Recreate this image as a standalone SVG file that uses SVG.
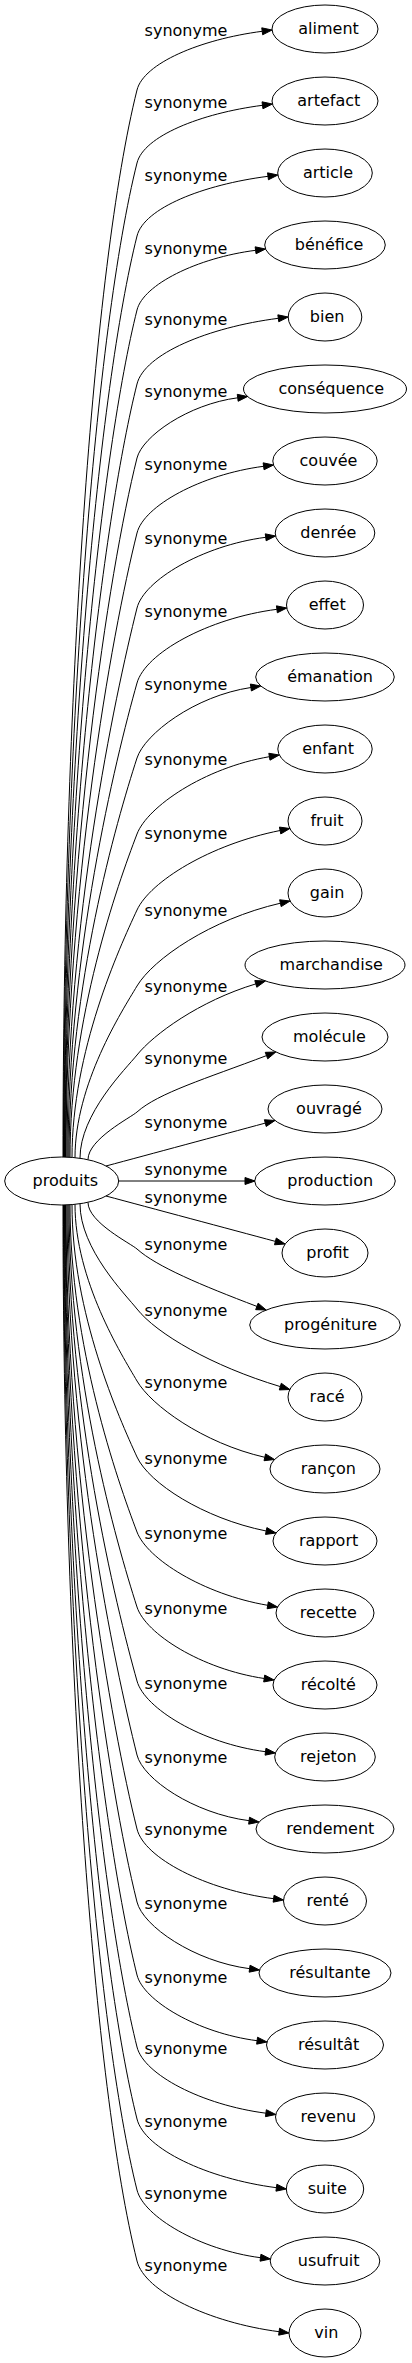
<svg xmlns="http://www.w3.org/2000/svg" width="412" height="2363" viewBox="0 0 412 2363">
<style>
text{font-family:"DejaVu Sans","Verdana",sans-serif;font-size:16px;fill:#000;text-anchor:middle}
.n ellipse{fill:none;stroke:#000;stroke-width:1}
.e path{fill:none;stroke:#000;stroke-width:1}
.e polygon{fill:#000;stroke:#000;stroke-width:1}
</style>
<rect width="412" height="2363" fill="#fff"/>
<g id="edges" class="e">
<g id="e-aliment"><path d="M63,1157 C63,698.2 93,266 137,90 C143.7,63.3 200.1,39.4 262.2,31.3"/><polygon points="272.1,30 262.65,34.77 261.75,27.83"/><text x="186" y="36">synonyme</text></g>
<g id="e-artefact"><path d="M63.5,1157 C63.5,729.6 96,327 137,163 C143.7,136.2 200.3,113.4 262.5,105.3"/><polygon points="272.4,104 262.95,108.77 262.05,101.83"/><text x="186" y="107.6">synonyme</text></g>
<g id="e-article"><path d="M64,1157 C64,761 99,387.9 137,236 C144,208.1 203,184.7 268,176.3"/><polygon points="277.9,175 268.45,179.77 267.55,172.83"/><text x="186" y="181">synonyme</text></g>
<g id="e-benefice"><path d="M64.5,1157 C64.5,792.8 102.1,449.7 137,310 C143.3,284.7 196.8,257.9 255.6,250.3"/><polygon points="265.5,249 256.05,253.77 255.15,246.83"/><text x="186" y="254.3">synonyme</text></g>
<g id="e-bien"><path d="M65,1157 C65,824.6 105.1,511.5 137,384 C144.5,353.8 208.2,327.4 278.3,318.3"/><polygon points="288.2,317 278.75,321.77 277.85,314.83"/><text x="186" y="325">synonyme</text></g>
<g id="e-consequence"><path d="M65.5,1157 C65.5,856.4 108.2,573.3 137,458 C142.4,436.5 187.8,404.3 237.7,397.8"/><polygon points="247.6,396.5 238.15,401.27 237.25,394.33"/><text x="186" y="397">synonyme</text></g>
<g id="e-couvee"><path d="M66,1157.1 C66,888.8 111.3,635.9 137,533 C143.8,505.9 200.8,474.5 263.6,466.3"/><polygon points="273.5,465 264.05,469.77 263.15,462.83"/><text x="186" y="470.3">synonyme</text></g>
<g id="e-denree"><path d="M67,1157.1 C67,921 114.4,698.5 137,608 C143.9,580.5 201.9,545.6 265.7,537.3"/><polygon points="275.6,536 266.15,540.77 265.25,533.83"/><text x="186" y="543.6">synonyme</text></g>
<g id="e-effet"><path d="M68,1157.2 C68,953.3 115.2,760.6 137,683 C145.3,653.3 207.5,618.3 276.9,609.3"/><polygon points="286.8,608 277.35,612.77 276.45,605.83"/><text x="186" y="617">synonyme</text></g>
<g id="e-emanation"><path d="M69,1157.2 C69,985.5 116.1,822.6 137,758 C144.7,734.1 194.6,695.9 250.9,687.5"/><polygon points="260.8,686 251.42,690.96 250.38,684.04"/><text x="186" y="690.3">synonyme</text></g>
<g id="e-enfant"><path d="M70,1157.3 C70,1018.3 117.4,885.4 137,834 C147.4,806.8 204.1,767.8 269.4,756.7"/><polygon points="279.3,755 269.99,760.15 268.81,753.25"/><text x="186" y="765">synonyme</text></g>
<g id="e-fruit"><path d="M72,1157.4 C72,1051 119.2,948.2 137,910 C150.3,881.4 209.9,844.5 280.1,830.5"/><polygon points="289.9,828.5 280.79,833.93 279.41,827.07"/><text x="186" y="839.3">synonyme</text></g>
<g id="e-gain"><path d="M75,1157.7 C75,1083.9 122,1011.1 137,986 C153.2,959 210.5,919.3 280.4,903.2"/><polygon points="290.1,901 281.18,906.61 279.62,899.79"/><text x="186" y="916">synonyme</text></g>
<g id="e-marchandise"><path d="M80,1158.2 C80,1113.8 126,1068.6 137,1055 C153.3,1034.7 198.9,1001 255.8,983.9"/><polygon points="265.4,981 256.81,987.25 254.79,980.55"/><text x="186" y="991.6">synonyme</text></g>
<g id="e-molecule"><path d="M88,1159.6 C88,1139.1 131,1117.4 137,1112 C158.2,1093 206,1078.6 266.5,1055.6"/><polygon points="275.8,1052 267.74,1058.87 265.26,1052.33"/><text x="186" y="1063.6">synonyme</text></g>
<g id="e-ouvrage"><path d="M106,1166 C150,1154.2 220,1135.3 265.3,1123.1"/><polygon points="275,1120.5 266.21,1126.48 264.39,1119.72"/><text x="186" y="1127.6">synonyme</text></g>
<g id="e-production"><path d="M118.7,1181 L245,1181"/><polygon points="255,1181 245,1184.5 245,1177.5"/><text x="186" y="1175">synonyme</text></g>
<g id="e-profit"><path d="M106,1196 C150,1207.8 230,1229.2 275.4,1241.4"/><polygon points="285.1,1244 274.49,1244.78 276.31,1238.02"/><text x="186" y="1202.6">synonyme</text></g>
<g id="e-progeniture"><path d="M88,1202.4 C88,1222.4 131.1,1243.7 137,1249 C156.7,1266.6 200.9,1285.1 256.9,1306.4"/><polygon points="266.2,1310 258.14,1303.13 255.66,1309.67"/><text x="186" y="1250.3">synonyme</text></g>
<g id="e-race"><path d="M80,1203.8 C80,1249 125.9,1295 137,1309 C156.6,1333.7 211.7,1366 280.3,1386.6"/><polygon points="289.9,1389.5 281.31,1383.25 279.29,1389.95"/><text x="186" y="1316">synonyme</text></g>
<g id="e-rancon"><path d="M75,1204.3 C75,1280.3 121.8,1355.1 137,1381 C151.2,1405.2 202.5,1443 264.8,1457.3"/><polygon points="274.5,1459.5 265.58,1453.89 264.02,1460.71"/><text x="186" y="1388.3">synonyme</text></g>
<g id="e-rapport"><path d="M72,1204.6 C72,1313.1 119.1,1418 137,1457 C148.9,1482.8 202.9,1518.3 266.2,1531"/><polygon points="276,1533 266.89,1527.57 265.51,1534.43"/><text x="186" y="1464.3">synonyme</text></g>
<g id="e-recette"><path d="M70,1204.7 C70,1345.4 117.3,1480 137,1532 C147.2,1558.9 203.3,1594.3 267.7,1605.3"/><polygon points="277.6,1607 268.29,1601.85 267.11,1608.75"/><text x="186" y="1539.3">synonyme</text></g>
<g id="e-recolte"><path d="M69,1204.8 C69,1377.7 116.1,1541.9 137,1607 C145.6,1633.7 201.3,1669.1 264.2,1678.5"/><polygon points="274.1,1680 264.72,1675.04 263.68,1681.96"/><text x="186" y="1614.3">synonyme</text></g>
<g id="e-rejeton"><path d="M68,1204.9 C68,1409.7 115.2,1603 137,1681 C144.6,1708.3 201.8,1743.4 265.5,1751.7"/><polygon points="275.4,1753 265.95,1748.23 265.05,1755.17"/><text x="186" y="1688.6">synonyme</text></g>
<g id="e-rendement"><path d="M67,1204.9 C67,1441.4 114.3,1664.3 137,1755 C143,1779 193.5,1813.5 249.1,1820.7"/><polygon points="259,1822 249.55,1817.23 248.65,1824.17"/><text x="186" y="1762.6">synonyme</text></g>
<g id="e-rente"><path d="M66,1204.9 C66,1473.3 111.3,1726.1 137,1829 C144.3,1858.2 205.9,1889.9 273.6,1898.7"/><polygon points="283.5,1900 274.05,1895.23 273.15,1902.17"/><text x="186" y="1835.3">synonyme</text></g>
<g id="e-resultante"><path d="M65.5,1205 C65.5,1504.7 108.3,1787 137,1902 C143,1926.1 193.8,1961.4 249.6,1968.7"/><polygon points="259.5,1970 250.05,1965.23 249.15,1972.17"/><text x="186" y="1908.6">synonyme</text></g>
<g id="e-resultat"><path d="M65,1205 C65,1536.1 105.3,1848 137,1975 C143.4,2000.6 197.5,2033 257.1,2040.7"/><polygon points="267,2042 257.55,2037.23 256.65,2044.17"/><text x="186" y="1982.6">synonyme</text></g>
<g id="e-revenu"><path d="M64.5,1205 C64.5,1567.1 102.3,1908.2 137,2047 C143.9,2074.6 202,2104.9 265.9,2113.2"/><polygon points="275.8,2114.5 266.35,2109.73 265.45,2116.67"/><text x="186" y="2054.3">synonyme</text></g>
<g id="e-suite"><path d="M64,1205 C64,1598 99.3,1968.2 137,2119 C144.4,2148.8 207.3,2178.7 276.4,2187.7"/><polygon points="286.3,2189 276.85,2184.23 275.95,2191.17"/><text x="186" y="2127">synonyme</text></g>
<g id="e-usufruit"><path d="M63.5,1205 C63.5,1628.6 96.4,2027.5 137,2190 C143.6,2216.4 199.3,2249.7 260.5,2257.7"/><polygon points="270.4,2259 260.95,2254.23 260.05,2261.17"/><text x="186" y="2199.3">synonyme</text></g>
<g id="e-vin"><path d="M63,1205 C63,1659.1 93.5,2086.9 137,2261 C144.6,2291.4 208.6,2322.5 279.1,2331.7"/><polygon points="289,2333 279.55,2328.23 278.65,2335.17"/><text x="186" y="2271">synonyme</text></g>
</g>
<g id="n-produits" class="n"><ellipse cx="61.7" cy="1181" rx="57" ry="24"/><text x="65.3" y="1186">produits</text></g>
<g id="n-aliment" class="n"><ellipse cx="325" cy="29" rx="53" ry="24"/><text x="328.6" y="34.3">aliment</text></g>
<g id="n-artefact" class="n"><ellipse cx="325" cy="101" rx="53" ry="24"/><text x="328.8" y="106.3">artefact</text></g>
<g id="n-article" class="n"><ellipse cx="325" cy="173" rx="47.3" ry="24"/><text x="328" y="178.3">article</text></g>
<g id="n-benefice" class="n"><ellipse cx="325" cy="245" rx="60.3" ry="24"/><text x="329.1" y="250.3">bénéfice</text></g>
<g id="n-bien" class="n"><ellipse cx="325" cy="317" rx="36.8" ry="24"/><text x="327.1" y="322.3">bien</text></g>
<g id="n-consequence" class="n"><ellipse cx="325" cy="389" rx="81.5" ry="24"/><text x="331.3" y="394.3">conséquence</text></g>
<g id="n-couvee" class="n"><ellipse cx="325" cy="461" rx="52.2" ry="24"/><text x="328.5" y="466.3">couvée</text></g>
<g id="n-denree" class="n"><ellipse cx="325" cy="533" rx="49.8" ry="24"/><text x="328.4" y="538.3">denrée</text></g>
<g id="n-effet" class="n"><ellipse cx="325" cy="605" rx="38.5" ry="24"/><text x="327.2" y="610.3">effet</text></g>
<g id="n-emanation" class="n"><ellipse cx="325" cy="677" rx="69.3" ry="24"/><text x="330.1" y="682.3">émanation</text></g>
<g id="n-enfant" class="n"><ellipse cx="325" cy="749" rx="47.2" ry="24"/><text x="328.1" y="754.3">enfant</text></g>
<g id="n-fruit" class="n"><ellipse cx="325" cy="821" rx="37" ry="24"/><text x="327" y="826.3">fruit</text></g>
<g id="n-gain" class="n"><ellipse cx="325" cy="893" rx="37" ry="24"/><text x="327.1" y="898.3">gain</text></g>
<g id="n-marchandise" class="n"><ellipse cx="325" cy="965" rx="80" ry="24"/><text x="331.2" y="970.3">marchandise</text></g>
<g id="n-molecule" class="n"><ellipse cx="325" cy="1037" rx="63" ry="24"/><text x="329.4" y="1042.3">molécule</text></g>
<g id="n-ouvrage" class="n"><ellipse cx="325" cy="1109" rx="57" ry="24"/><text x="329" y="1114.3">ouvragé</text></g>
<g id="n-production" class="n"><ellipse cx="325" cy="1181" rx="70.3" ry="24"/><text x="330.2" y="1186.3">production</text></g>
<g id="n-profit" class="n"><ellipse cx="325" cy="1253" rx="43" ry="24"/><text x="327.6" y="1258.3">profit</text></g>
<g id="n-progeniture" class="n"><ellipse cx="325" cy="1325" rx="75.3" ry="24"/><text x="330.6" y="1330.3">progéniture</text></g>
<g id="n-race" class="n"><ellipse cx="325" cy="1397" rx="37" ry="24"/><text x="327.1" y="1402.3">racé</text></g>
<g id="n-rancon" class="n"><ellipse cx="325" cy="1469" rx="55" ry="24"/><text x="328.3" y="1474.3">rançon</text></g>
<g id="n-rapport" class="n"><ellipse cx="325" cy="1541" rx="52" ry="24"/><text x="328.6" y="1546.3">rapport</text></g>
<g id="n-recette" class="n"><ellipse cx="325" cy="1613" rx="49" ry="24"/><text x="328.4" y="1618.3">recette</text></g>
<g id="n-recolte" class="n"><ellipse cx="325" cy="1685" rx="52" ry="24"/><text x="328.3" y="1690.3">récolté</text></g>
<g id="n-rejeton" class="n"><ellipse cx="325" cy="1757" rx="50.3" ry="24"/><text x="328.4" y="1762.3">rejeton</text></g>
<g id="n-rendement" class="n"><ellipse cx="325" cy="1829" rx="69" ry="24"/><text x="330.3" y="1834.3">rendement</text></g>
<g id="n-rente" class="n"><ellipse cx="325" cy="1901" rx="41.5" ry="24"/><text x="327.6" y="1906.3">renté</text></g>
<g id="n-resultante" class="n"><ellipse cx="325" cy="1973" rx="66" ry="24"/><text x="329.9" y="1978.3">résultante</text></g>
<g id="n-resultat" class="n"><ellipse cx="325" cy="2045" rx="58.5" ry="24"/><text x="328.7" y="2050.3">résultât</text></g>
<g id="n-revenu" class="n"><ellipse cx="325" cy="2117" rx="49.5" ry="24"/><text x="328.4" y="2122.3">revenu</text></g>
<g id="n-suite" class="n"><ellipse cx="325" cy="2189" rx="38.7" ry="24"/><text x="327.3" y="2194.3">suite</text></g>
<g id="n-usufruit" class="n"><ellipse cx="325" cy="2261" rx="54.8" ry="24"/><text x="328.7" y="2266.3">usufruit</text></g>
<g id="n-vin" class="n"><ellipse cx="325" cy="2333" rx="36" ry="24"/><text x="326.4" y="2338.3">vin</text></g>
</svg>
